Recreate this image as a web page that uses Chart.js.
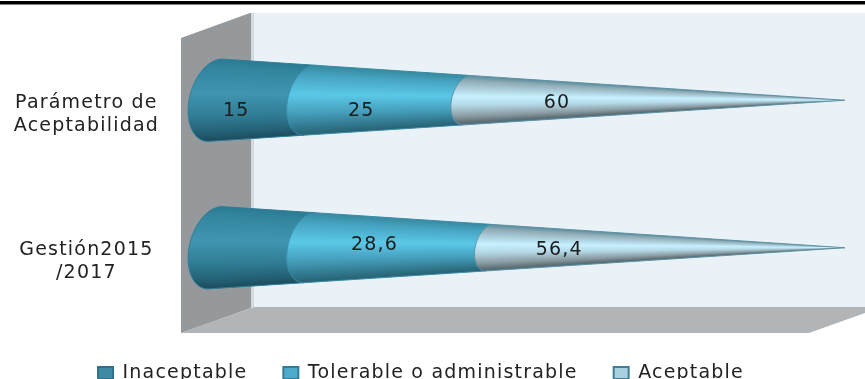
<!DOCTYPE html>
<html><head><meta charset="utf-8">
<style>html,body{margin:0;padding:0;background:#fff;overflow:hidden}canvas{display:block}</style>
<script src="https://cdn.jsdelivr.net/npm/chart.js@4"></script>
</head><body><canvas id="c" width="865" height="379"></canvas>
<script>
const categories = [["Parámetro de","Aceptabilidad"],["Gestión2015","/2017"]];
const inaceptable = [15, 15];
const tolerable = [25, 28.6];
const aceptable = [60, 56.4];
const shownInaceptable = ["15", null];
const shownTolerable = ["25", "28,6"];
const shownAceptable = ["60", "56,4"];

const shades = [
  [[0,'#2c7a93'],[.12,'#34869f'],[.42,'#4095b0'],[.7,'#307c94'],[.9,'#235f73'],[1,'#1b4a5b']],
  [[0,'#37899f'],[.14,'#45a3c0'],[.42,'#5bc8e8'],[.68,'#459fbb'],[.9,'#2f7388'],[1,'#26606f']],
  [[0,'#5b8d9e'],[.1,'#8eaab5'],[.42,'#c8f0ff'],[.6,'#b4d8e6'],[.82,'#8a9ba2'],[.95,'#5d6d74'],[1,'#3f7486']]
];
const edges = ['#2f7f98','#3b8dab','#5d93a5'];
const labelShift = [[[-26,11],[0,0]],[[-27,11],[-25,-3]],[[-99,3],[-108,2]]];

const LETTER = '1.2px';
const scenery = {
  id:'scenery',
  beforeLayout(c){ c.ctx.letterSpacing = LETTER; },
  beforeUpdate(c){ c.ctx.letterSpacing = LETTER; },
  afterLayout(c){ c.legend.top += 6; c.legend.bottom += 6; },
  beforeDraw(c){
    const x = c.ctx; x.letterSpacing = LETTER;
    const poly = (pts,col)=>{x.beginPath();pts.forEach((p,i)=>i?x.lineTo(p[0],p[1]):x.moveTo(p[0],p[1]));x.closePath();x.fillStyle=col;x.fill();};
    x.save();
    x.fillStyle='#000'; x.fillRect(0,1,865,3.5);
    poly([[254,13],[865,13],[865,307],[254,307]],'#eaf2f8');
    poly([[181,333],[254,307],[865,307],[865,313],[809,333]],'#b1b5b8');
    poly([[181,38],[250,13],[251,13],[251,308],[181,333]],'#96999b');
    poly([[251,13],[254,13],[254,307],[251,308]],'#d3dadd');
    x.restore();
  },
  beforeDatasetDraw(){ return false; },
  beforeDatasetsDraw(c){
    const ctx = c.ctx, sx = c.scales.x;
    const x0 = sx.getPixelForValue(0), tip = sx.getPixelForValue(100);
    c.data.datasets.forEach((d,index)=>{
      const stops = shades[index];
      c.getDatasetMeta(index).data.forEach(el=>{
        const Rmax = el.height/2, cy = el.y;
        const k = px => Math.max(0,(tip-px)/(tip-x0));
        const a = el.base, b = el.x, ka = k(a), kb = k(b);
        ctx.save();
        ctx.beginPath();
        for(let i=0;i<=40;i++){
          const t = -Math.PI/2 + Math.PI*i/40;
          const px = a - 26*ka*Math.cos(t) - 7*ka*Math.sin(t);
          const py = cy + Rmax*ka*Math.sin(t);
          i?ctx.lineTo(px,py):ctx.moveTo(px,py);
        }
        if(kb>0.001){ ctx.lineTo(b-7*kb, cy+Rmax*kb); ctx.lineTo(b+7*kb, cy-Rmax*kb); }
        else ctx.lineTo(b,cy);
        ctx.closePath();
        ctx.save();
        ctx.clip();
        for(let px=Math.floor(a-30*ka);px<=Math.ceil(b+7);px++){
          const R = Math.max(0.4,Rmax*Math.min(k(px),1));
          const g = ctx.createLinearGradient(0,cy-R,0,cy+R);
          stops.forEach(s=>g.addColorStop(s[0],s[1]));
          ctx.fillStyle=g;
          ctx.fillRect(px,cy-R-1,1.2,2*R+2);
        }
        ctx.restore();
        ctx.strokeStyle=edges[index]; ctx.lineWidth=1; ctx.stroke();
        ctx.restore();
      });
    });
  },
  afterDatasetsDraw(c){
    const ctx=c.ctx;
    ctx.save();
    ctx.font='19px "DejaVu Sans"'; ctx.fillStyle='#1c1c1c';
    ctx.textAlign='center'; ctx.textBaseline='middle';
    c.data.datasets.forEach((d,i)=>{
      c.getDatasetMeta(i).data.forEach((el,j)=>{
        const txt=d.shown[j];
        if(txt===null) return;
        ctx.fillText(txt,(el.base+el.x)/2+labelShift[i][j][0],el.y+labelShift[i][j][1]);
      });
    });
    ctx.restore();
  }
};

new Chart(document.getElementById('c'),{
  type:'bar',
  plugins:[scenery],
  data:{labels:categories,datasets:[
    {label:'Inaceptable',data:inaceptable,shown:shownInaceptable,backgroundColor:'#3f8ba5',borderColor:'#2f7088',borderWidth:2},
    {label:'Tolerable o administrable',data:tolerable,shown:shownTolerable,backgroundColor:'#4cacca',borderColor:'#2f7f98',borderWidth:2},
    {label:'Aceptable',data:aceptable,shown:shownAceptable,backgroundColor:'#a9d0de',borderColor:'#3f7f95',borderWidth:2}
  ]},
  options:{
    indexAxis:'y',responsive:false,animation:false,
    layout:{padding:{top:26.5,left:-3,right:20,bottom:-7.5}},
    datasets:{bar:{categoryPercentage:1,barPercentage:0.558}},
    scales:{
      x:{stacked:true,min:0,max:100,display:true,grid:{display:false},border:{display:false},ticks:{display:false},afterFit(s){s.height=0;}},
      y:{stacked:true,grid:{display:false,drawTicks:true,tickLength:56},border:{display:false},
         afterFit(s){s.width=218;s.paddingTop=0;s.paddingBottom=0;},
         ticks:{font:{family:'"DejaVu Sans"',size:19,lineHeight:1.2},color:'#222',crossAlign:'center',padding:0,labelOffset:14,autoSkip:false}}
    },
    plugins:{
      legend:{position:'bottom',labels:{boxWidth:15,boxHeight:12,padding:36,color:'#222',font:{family:'"DejaVu Sans"',size:19}}},
      tooltip:{enabled:false}
    }
  }
});
</script></body></html>
